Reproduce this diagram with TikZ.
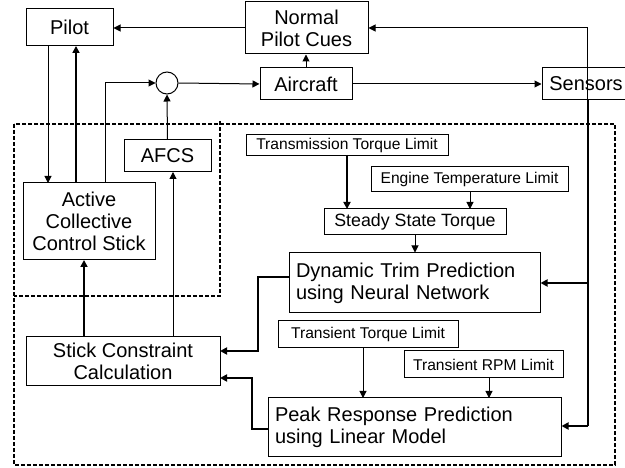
\documentclass[tikz,border=0pt]{standalone}
\usepackage{fontspec}
\setmainfont{Liberation Sans}
\usetikzlibrary{arrows.meta}

\begin{document}
\begin{tikzpicture}[x=1pt,y=-1pt,
  box/.style={draw, line width=1pt, inner sep=0pt, align=center,
    font=\fontsize{20}{22}\selectfont},
  leftbox/.style={box, align=left, inner xsep=7pt},
  limitbox/.style={box, font=\fontsize{15.6}{18}\selectfont},
  midbox/.style={box, font=\fontsize{17.8}{20}\selectfont},
  arr/.style={line width=1pt, -{Triangle[length=7pt,width=7pt]}},
  thickarr/.style={arr, line width=1.7pt},
  bound/.style={line width=1.5pt, dash pattern=on 4pt off 2pt}
]
\useasboundingbox (0,0) rectangle (625,468);

% dashed enclosures: controller and stick subsystem
\draw[bound] (14,124) rectangle (615,465);
\draw[bound] (220,121) -- (220,296) -- (14,296);

% outer loop blocks
\node[box, minimum width=87, minimum height=37] (pilot) at (69.5,27.5) {Pilot};
\node[box, minimum width=123, minimum height=52] (cues) at (306.5,28) {Normal\\Pilot Cues};
\node[box, minimum width=92, minimum height=32] (aircraft) at (306,84) {Aircraft};
\node[box, minimum width=88, minimum height=32] (sensors) at (586,84) {Sensors};
\node[draw, line width=1pt, circle, minimum size=22, inner sep=0pt] (sum) at (167,83) {};

% stick subsystem
\node[box, minimum width=87, minimum height=32] (afcs) at (167.5,156) {AFCS};
\node[box, minimum width=132, minimum height=77] (accs) at (89,221.5) {Active\\Collective\\Control Stick};
\node[box, minimum width=194, minimum height=49] (scc) at (123,361.5) {Stick Constraint\\Calculation};

% limit and prediction chain
\node[limitbox, minimum width=202, minimum height=21] (ttl) at (347,145.5) {Transmission Torque Limit};
\node[limitbox, minimum width=197, minimum height=25] (etl) at (469.5,179.5) {Engine Temperature Limit};
\node[midbox, minimum width=182, minimum height=26] (sst) at (415,222) {Steady State Torque};
\node[leftbox, text width=237, minimum height=60] (dt) at (414.5,283) {Dynamic Trim Prediction\\using Neural Network};
\node[limitbox, minimum width=180, minimum height=27] (ttr) at (368,334.5) {Transient Torque Limit};
\node[limitbox, minimum width=159, minimum height=27] (trpm) at (483.5,364.5) {Transient RPM Limit};
\node[leftbox, text width=279, minimum height=58] (pr) at (414.5,427) {Peak Response Prediction\\using Linear Model};

% junction points on connectors
\coordinate (sdown) at (588,100);
\coordinate (sdt) at (588,283);
\coordinate (spr) at (588,426);

% outer loop
\draw[arr] (cues.west) -- (cues.west -| pilot.east);
\draw[arr] (587,100) |- (cues.east);
\draw[arr] (aircraft.north) -- (aircraft.north |- cues.south);
\draw[arr] (aircraft.east) -- (sensors.west);
\draw[arr] (sum.east) -- (aircraft.west);
\draw[arr] (105,183) |- (sum.west);
\draw[arr] (48,46) -- (48,183);
\draw[thickarr] (76,183) -- (76,46);
\draw[arr] (afcs.north) -- (sum.south);

% stick constraint outputs
\draw[thickarr] (84,337) -- (84,260);
\draw[arr] (173,337) -- (173,172);

% limits into predictions
\draw[thickarr] (347,155) -- (347,209);
\draw[arr] (470,192) -- (470,209);
\draw[arr] (sst.south) -- (sst.south |- dt.north);
\draw[arr] (363,348) -- (363,398);
\draw[arr] (489,378) -- (489,398);

% predictions into stick constraint
\draw[thickarr] (289,277) -- (258,277) |- (220,351);
\draw[thickarr] (268,429) -- (252,429) |- (220,378);

% sensor feedback
\draw[line width=1.7pt] (sdown) -- (spr);
\draw[thickarr] (sdt) -- (dt.east |- sdt);
\draw[thickarr] (spr) -- (pr.east |- spr);
\end{tikzpicture}
\end{document}
